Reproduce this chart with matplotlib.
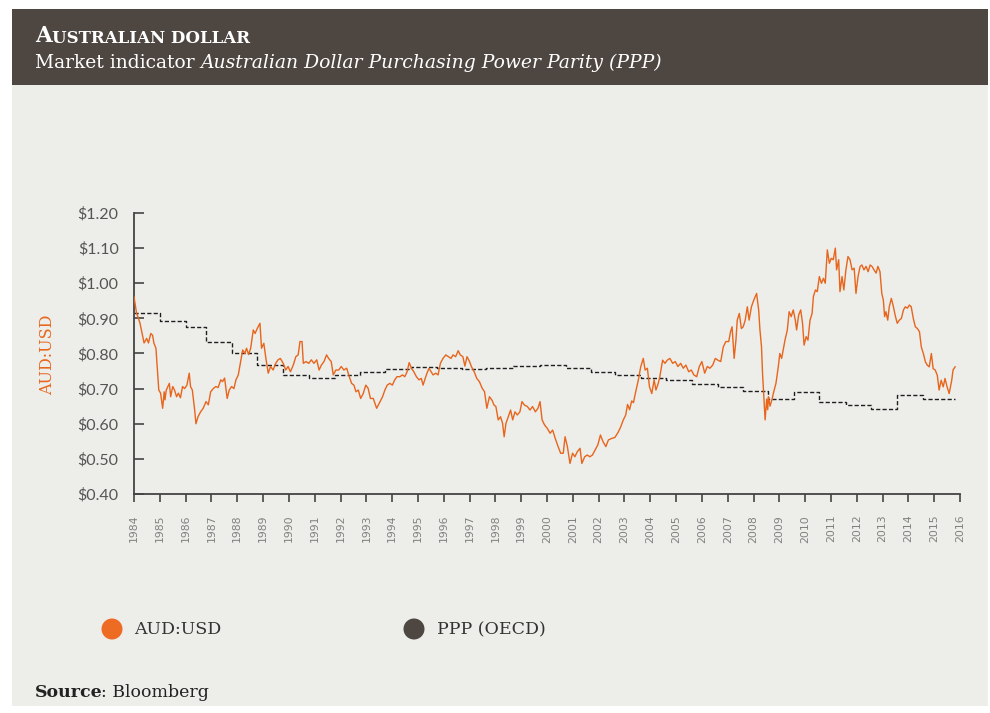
import numpy as np
import matplotlib
matplotlib.use("Agg")
import matplotlib.pyplot as plt
from matplotlib.patches import Rectangle, Circle

# AUD:USD (decimal year, USD per AUD)
aud_t = [1984.00, 1984.10, 1984.15, 1984.23, 1984.34, 1984.39, 1984.49, 1984.56, 1984.65, 1984.72,
         1984.77, 1984.85, 1984.90, 1984.96, 1985.03, 1985.11, 1985.17, 1985.20, 1985.25, 1985.37,
         1985.42, 1985.50, 1985.57, 1985.65, 1985.72, 1985.80, 1985.88, 1985.96, 1986.05, 1986.14,
         1986.19, 1986.26, 1986.35, 1986.40, 1986.48, 1986.58, 1986.68, 1986.79, 1986.88, 1986.97,
         1987.07, 1987.17, 1987.26, 1987.36, 1987.43, 1987.51, 1987.61, 1987.69, 1987.78, 1987.87,
         1987.95, 1988.04, 1988.13, 1988.21, 1988.29, 1988.36, 1988.44, 1988.52, 1988.62, 1988.69,
         1988.78, 1988.88, 1988.94, 1989.03, 1989.10, 1989.20, 1989.29, 1989.39, 1989.49, 1989.58,
         1989.67, 1989.78, 1989.88, 1989.97, 1990.06, 1990.17, 1990.27, 1990.36, 1990.43, 1990.51,
         1990.56, 1990.66, 1990.77, 1990.87, 1990.97, 1991.08, 1991.17, 1991.26, 1991.36, 1991.46,
         1991.54, 1991.64, 1991.72, 1991.82, 1991.93, 1992.03, 1992.13, 1992.24, 1992.34, 1992.43,
         1992.52, 1992.60, 1992.69, 1992.78, 1992.88, 1992.98, 1993.07, 1993.16, 1993.27, 1993.40,
         1993.53, 1993.63, 1993.72, 1993.81, 1993.91, 1994.01, 1994.10, 1994.19, 1994.30, 1994.40,
         1994.49, 1994.58, 1994.66, 1994.75, 1994.84, 1994.94, 1995.04, 1995.13, 1995.20, 1995.28,
         1995.35, 1995.43, 1995.51, 1995.59, 1995.69, 1995.78, 1995.87, 1995.97, 1996.08, 1996.18,
         1996.28, 1996.36, 1996.46, 1996.56, 1996.64, 1996.74, 1996.82, 1996.90, 1997.00, 1997.07,
         1997.18, 1997.28, 1997.38, 1997.49, 1997.58, 1997.67, 1997.77, 1997.87, 1997.95, 1998.02,
         1998.11, 1998.20, 1998.28, 1998.34, 1998.41, 1998.50, 1998.59, 1998.67, 1998.76, 1998.85,
         1998.95, 1999.03, 1999.13, 1999.24, 1999.34, 1999.44, 1999.55, 1999.65, 1999.73, 1999.81,
         1999.91, 2000.01, 2000.12, 2000.22, 2000.32, 2000.43, 2000.53, 2000.63, 2000.70, 2000.79,
         2000.89, 2000.99, 2001.08, 2001.17, 2001.28, 2001.35, 2001.46, 2001.56, 2001.66, 2001.76,
         2001.86, 2001.97, 2002.07, 2002.17, 2002.28, 2002.38, 2002.50, 2002.63, 2002.75, 2002.85,
         2002.95, 2003.05, 2003.12, 2003.20, 2003.28, 2003.35, 2003.41, 2003.54, 2003.63, 2003.73,
         2003.80, 2003.89, 2003.97, 2004.06, 2004.15, 2004.22, 2004.31, 2004.37, 2004.48, 2004.57,
         2004.66, 2004.76, 2004.87, 2004.97, 2005.07, 2005.18, 2005.28, 2005.38, 2005.49, 2005.59,
         2005.69, 2005.80, 2005.90, 2006.00, 2006.11, 2006.21, 2006.31, 2006.42, 2006.52, 2006.62,
         2006.73, 2006.83, 2006.93, 2007.04, 2007.11, 2007.17, 2007.25, 2007.32, 2007.37, 2007.45,
         2007.53, 2007.60, 2007.68, 2007.76, 2007.83, 2007.92, 2008.01, 2008.12, 2008.20, 2008.25,
         2008.31, 2008.35, 2008.40, 2008.45, 2008.51, 2008.55, 2008.58, 2008.64, 2008.72, 2008.77,
         2008.87, 2008.96, 2009.02, 2009.09, 2009.15, 2009.22, 2009.31, 2009.38, 2009.46, 2009.54,
         2009.62, 2009.67, 2009.75, 2009.83, 2009.90, 2009.96, 2010.04, 2010.11, 2010.19, 2010.27,
         2010.32, 2010.40, 2010.47, 2010.55, 2010.63, 2010.71, 2010.78, 2010.86, 2010.94, 2011.01,
         2011.09, 2011.17, 2011.22, 2011.30, 2011.35, 2011.43, 2011.50, 2011.58, 2011.66, 2011.74,
         2011.82, 2011.90, 2011.97, 2012.05, 2012.13, 2012.20, 2012.28, 2012.36, 2012.44, 2012.52,
         2012.59, 2012.67, 2012.75, 2012.82, 2012.90, 2012.97, 2013.03, 2013.08, 2013.13, 2013.20,
         2013.26, 2013.34, 2013.42, 2013.50, 2013.57, 2013.65, 2013.73, 2013.81, 2013.88, 2013.96,
         2014.04, 2014.11, 2014.19, 2014.27, 2014.35, 2014.43, 2014.50, 2014.58, 2014.66, 2014.73,
         2014.81, 2014.89, 2014.96, 2015.04, 2015.12, 2015.19, 2015.27, 2015.35, 2015.42, 2015.50,
         2015.58, 2015.63, 2015.68, 2015.73, 2015.81]
aud_v = [0.962, 0.914, 0.905, 0.887, 0.848, 0.830, 0.843, 0.830, 0.857, 0.852,
         0.830, 0.815, 0.762, 0.696, 0.687, 0.644, 0.691, 0.668, 0.696, 0.715,
         0.677, 0.706, 0.696, 0.677, 0.687, 0.674, 0.706, 0.700, 0.710, 0.744,
         0.706, 0.696, 0.639, 0.600, 0.620, 0.634, 0.644, 0.663, 0.654, 0.691,
         0.700, 0.706, 0.703, 0.725, 0.720, 0.730, 0.672, 0.696, 0.706, 0.700,
         0.725, 0.739, 0.777, 0.810, 0.800, 0.815, 0.797, 0.815, 0.867, 0.857,
         0.872, 0.886, 0.815, 0.829, 0.791, 0.744, 0.763, 0.753, 0.772, 0.782,
         0.786, 0.772, 0.753, 0.763, 0.748, 0.767, 0.791, 0.796, 0.834, 0.834,
         0.772, 0.777, 0.772, 0.782, 0.772, 0.782, 0.753, 0.767, 0.777, 0.796,
         0.786, 0.777, 0.739, 0.753, 0.753, 0.763, 0.753, 0.758, 0.734, 0.715,
         0.710, 0.691, 0.696, 0.672, 0.686, 0.710, 0.701, 0.672, 0.672, 0.644,
         0.663, 0.677, 0.696, 0.710, 0.715, 0.710, 0.725, 0.734, 0.734, 0.739,
         0.734, 0.748, 0.774, 0.758, 0.748, 0.734, 0.725, 0.729, 0.710, 0.729,
         0.744, 0.758, 0.748, 0.739, 0.744, 0.739, 0.772, 0.786, 0.796, 0.791,
         0.786, 0.796, 0.791, 0.808, 0.796, 0.791, 0.764, 0.791, 0.777, 0.763,
         0.748, 0.729, 0.720, 0.701, 0.691, 0.644, 0.677, 0.667, 0.653, 0.649,
         0.611, 0.620, 0.601, 0.563, 0.601, 0.620, 0.639, 0.611, 0.634, 0.625,
         0.634, 0.663, 0.653, 0.649, 0.639, 0.649, 0.634, 0.644, 0.663, 0.611,
         0.596, 0.587, 0.573, 0.582, 0.558, 0.535, 0.516, 0.516, 0.563, 0.535,
         0.487, 0.516, 0.506, 0.520, 0.530, 0.487, 0.506, 0.511, 0.506, 0.511,
         0.525, 0.540, 0.568, 0.549, 0.535, 0.554, 0.558, 0.561, 0.575, 0.590,
         0.610, 0.625, 0.655, 0.640, 0.665, 0.660, 0.682, 0.725, 0.762, 0.786,
         0.753, 0.758, 0.705, 0.686, 0.725, 0.696, 0.715, 0.734, 0.781, 0.772,
         0.781, 0.786, 0.772, 0.777, 0.763, 0.772, 0.758, 0.767, 0.748, 0.753,
         0.739, 0.734, 0.763, 0.777, 0.744, 0.763, 0.758, 0.767, 0.786, 0.781,
         0.777, 0.819, 0.834, 0.834, 0.862, 0.876, 0.786, 0.838, 0.895, 0.914,
         0.871, 0.876, 0.895, 0.933, 0.895, 0.933, 0.952, 0.971, 0.924, 0.867,
         0.819, 0.744, 0.677, 0.611, 0.670, 0.640, 0.677, 0.650, 0.670, 0.687,
         0.715, 0.762, 0.800, 0.786, 0.810, 0.838, 0.867, 0.919, 0.905, 0.924,
         0.895, 0.867, 0.910, 0.924, 0.886, 0.824, 0.848, 0.838, 0.895, 0.914,
         0.962, 0.981, 0.976, 1.019, 1.000, 1.014, 1.000, 1.095, 1.057, 1.071,
         1.067, 1.100, 1.038, 1.067, 0.976, 1.019, 0.981, 1.038, 1.076, 1.067,
         1.038, 1.043, 0.971, 1.019, 1.048, 1.052, 1.038, 1.048, 1.033, 1.052,
         1.048, 1.038, 1.029, 1.048, 1.033, 0.971, 0.952, 0.905, 0.919, 0.895,
         0.933, 0.957, 0.933, 0.905, 0.886, 0.895, 0.900, 0.924, 0.933, 0.929,
         0.938, 0.933, 0.900, 0.876, 0.871, 0.862, 0.819, 0.800, 0.776, 0.767,
         0.762, 0.800, 0.757, 0.753, 0.738, 0.696, 0.724, 0.705, 0.729, 0.705,
         0.686, 0.705, 0.724, 0.753, 0.762]

# PPP (OECD) step levels: year each level starts, and its value
ppp_t = [1984.00, 1985.00, 1986.00, 1986.78, 1987.80, 1988.77, 1989.77, 1990.77, 1991.78, 1992.75,
         1993.72, 1994.72, 1995.75, 1996.72, 1997.65, 1998.70, 1999.72, 2000.72, 2001.72, 2002.65,
         2003.63, 2004.62, 2005.60, 2006.62, 2007.60, 2008.57, 2009.57, 2010.55, 2011.60, 2012.55,
         2013.55, 2014.55, 2015.81]
ppp_v = [0.914, 0.893, 0.875, 0.834, 0.800, 0.766, 0.739, 0.729, 0.740, 0.746,
         0.756, 0.762, 0.760, 0.756, 0.758, 0.764, 0.767, 0.760, 0.746, 0.739,
         0.729, 0.725, 0.712, 0.705, 0.693, 0.671, 0.689, 0.661, 0.653, 0.641,
         0.682, 0.671, 0.671]

years = list(range(1984, 2017))
yticks = [0.40, 0.50, 0.60, 0.70, 0.80, 0.90, 1.00, 1.10, 1.20]

ORANGE = "#e8651c"
DARK = "#4d4641"
PANEL = "#ededea"
SERIF = "DejaVu Serif"

W, H = 990, 713
fig = plt.figure(figsize=(W / 100, H / 100), dpi=100)
fig.patch.set_facecolor("white")

# background layer in pixel coordinates
bg = fig.add_axes([0, 0, 1, 1], zorder=0)
bg.set_xlim(0, W)
bg.set_ylim(H, 0)
bg.axis("off")
bg.add_patch(Rectangle((12, 9), 976, 697, color=PANEL, lw=0))
bg.add_patch(Rectangle((12, 9), 976, 76, color=DARK, lw=0))

# title in small caps (big A, smaller rest)
t1 = bg.text(35, 42, "A", fontsize=15.5, fontweight="bold", family=SERIF,
             color="white", va="baseline")
bg.annotate("USTRALIAN DOLLAR", xy=(1, 0), xycoords=t1, fontsize=12,
            fontweight="bold", family=SERIF, color="white", va="bottom")

s1 = bg.text(35, 68, "Market indicator ", fontsize=13.5, family=SERIF,
             color="white", va="baseline")
bg.annotate("Australian Dollar Purchasing Power Parity (PPP)", xy=(1, 0),
            xycoords=s1, fontsize=13.5, family=SERIF, style="italic",
            color="white", va="bottom")

# legend
bg.add_patch(Circle((112, 629), 10.5, color="#ee6b24", lw=0))
bg.text(134, 630, "AUD:USD", fontsize=12.5, family=SERIF, color="#333333", va="center")
bg.add_patch(Circle((414, 629), 10.5, color=DARK, lw=0))
bg.text(437, 630, "PPP (OECD)", fontsize=12.5, family=SERIF, color="#333333", va="center")

# source
src = bg.text(35, 697, "Source", fontsize=12.5, fontweight="bold", family=SERIF,
              color="#222222", va="baseline")
bg.annotate(": Bloomberg", xy=(1, 0), xycoords=src, xytext=(-1.5, 0),
            textcoords="offset points", fontsize=12.5, family=SERIF,
            color="#222222", va="bottom")

# main chart
ax = fig.add_axes([134 / W, (H - 494) / H, 826 / W, 281 / H], zorder=1)
ax.patch.set_alpha(0)
ax.plot(aud_t, aud_v, color=ORANGE, lw=1.0, zorder=3)
ax.step(ppp_t, ppp_v, where="post", color="#1e1e1e", lw=1.0,
        dashes=(3, 1.6), zorder=2)

ax.set_xlim(1984, 2016)
ax.set_ylim(0.40, 1.20)
for side in ("top", "right"):
    ax.spines[side].set_visible(False)
for side in ("left", "bottom"):
    ax.spines[side].set_color("#444444")
    ax.spines[side].set_linewidth(1.3)

ax.set_xticks(years)
ax.set_xticklabels([str(y) for y in years], rotation=90, fontsize=7.8,
                   color="#808080", family="DejaVu Sans")
ax.set_yticks(yticks)
ax.set_yticklabels(["$%.2f" % v for v in yticks], fontsize=11.5,
                   color="#555555", family="Lato")
ax.tick_params(axis="x", direction="out", length=6, width=1.2,
               color="#444444", pad=9)
ax.tick_params(axis="y", direction="in", length=7.5, width=1.2,
               color="#444444", pad=11)

fig.text(48 / W, 1 - 355 / H, "AUD:USD", rotation=90, fontsize=11.5,
         family=SERIF, color=ORANGE, ha="center", va="center")

fig.savefig("out.png", dpi=100)
